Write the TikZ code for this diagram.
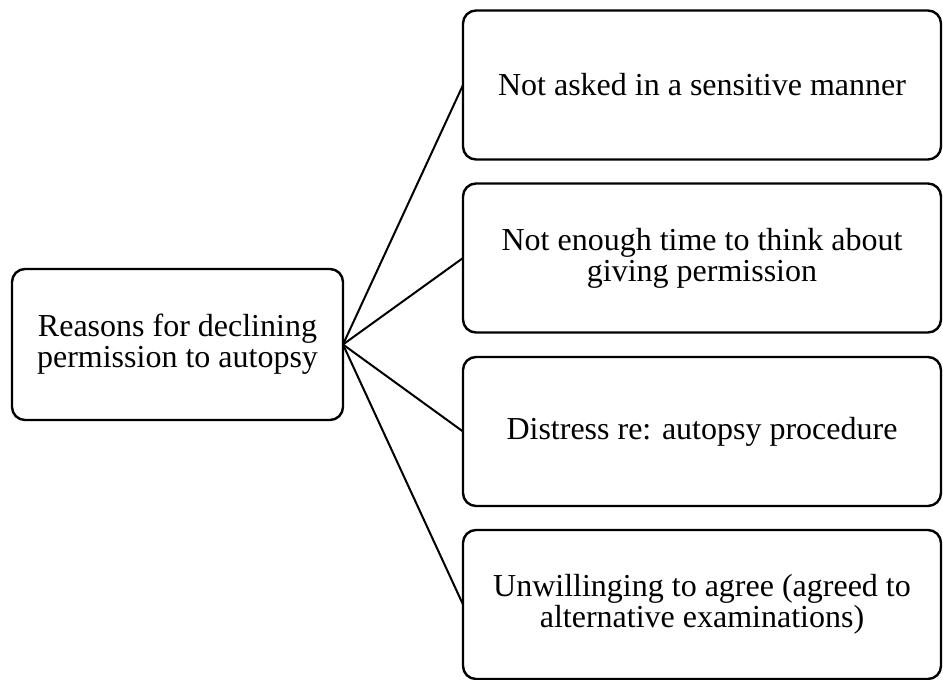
\documentclass[tikz,border=0pt]{standalone}
\usepackage{fontspec}
\setmainfont{Liberation Serif}
\tikzset{
  box/.style={draw=black, line width=2.4pt, rounded corners=13pt, fill=white,
    align=center, inner sep=0pt, outer sep=0pt,
    font=\fontsize{32}{31}\selectfont},
  leftbox/.style={box, minimum width=331pt, minimum height=151pt},
  rightbox/.style={box, minimum width=478pt, minimum height=149pt},
  link/.style={draw=black, line width=2pt}
}
\begin{document}
\begin{tikzpicture}[x=1pt,y=-1pt]
\useasboundingbox (0,0) rectangle (943,680);
\node[leftbox] (root) at (177.5,344.5) {Reasons for declining\\permission to autopsy};
\node[rightbox] (r1) at (702,85) {Not asked in a sensitive manner};
\node[rightbox] (r2) at (702,258) {Not enough time to think about\\giving permission};
\node[rightbox] (r3) at (702,431.5) {Distress re: autopsy procedure};
\node[rightbox] (r4) at (702,604.5) {Unwillinging to agree (agreed to\\alternative examinations)};
\foreach \t in {r1,r2,r3,r4} \draw[link] (root.east) -- (\t.west);
\end{tikzpicture}
\end{document}
